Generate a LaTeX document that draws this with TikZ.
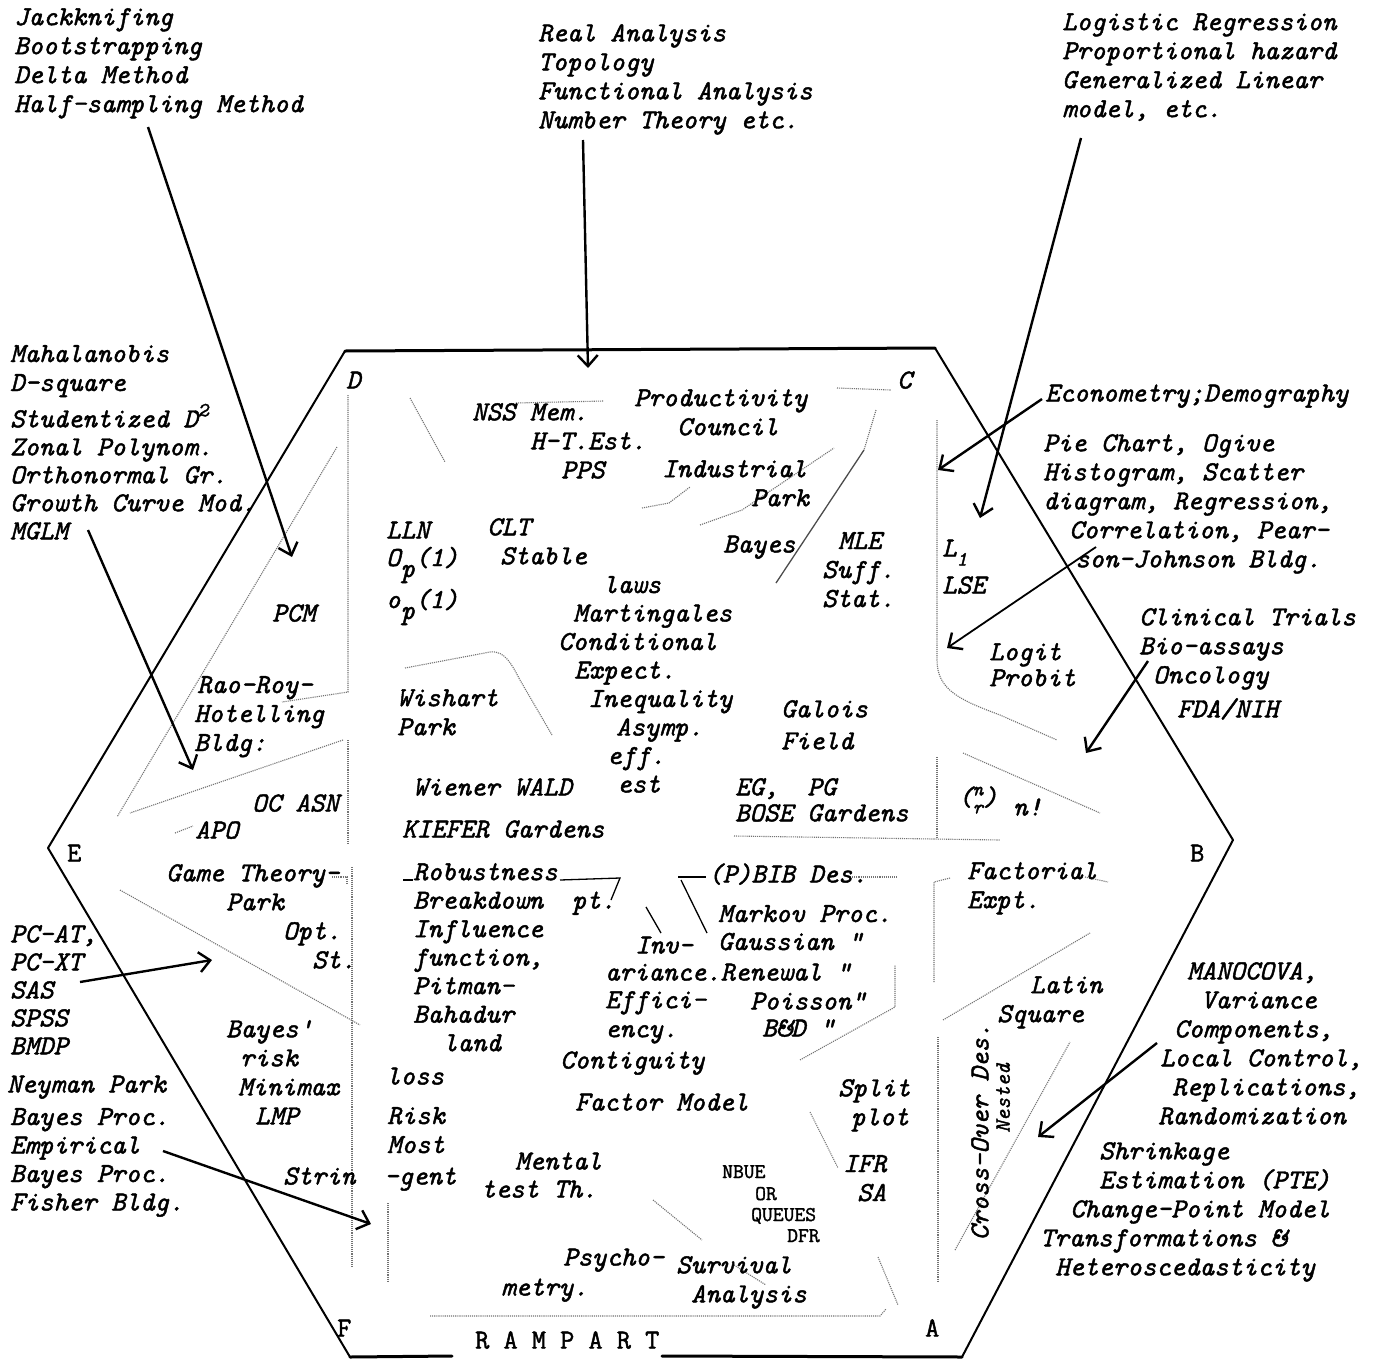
\documentclass[tikz,border=0pt]{standalone}
\usepackage{fontspec}
\usetikzlibrary{arrows.meta}
\newfontfamily\tyf{Latin Modern Mono}[FakeBold=1.6]
\newcommand\tf[1]{\fontsize{27.5}{#1}\selectfont\tyf\itshape}
\newcommand\tu[1]{\fontsize{27.5}{#1}\selectfont\tyf\upshape}
\newcommand\smf{\fontsize{20}{20}\selectfont}
\begin{document}
\begin{tikzpicture}[x=1pt,y=-1pt,
  tx/.style={anchor=north west,inner sep=0pt,align=left,font=\tf{29},execute at begin node=\strut},
  sm/.style={anchor=base west,inner sep=0pt,font=\fontsize{21}{21}\selectfont\tyf\upshape},
  hexthin/.style={line width=2pt,line cap=round,line join=round},
  hexthick/.style={line width=3pt,line cap=round,line join=round},
  arr/.style={line width=2.4pt,-{Straight Barb[length=11pt,width=20pt,line width=2.4pt]}},
  fl/.style={densely dotted,line width=1.1pt,black!55},
  sl/.style={line width=1.3pt}]
\useasboundingbox (0,0) rectangle (1377,1363);
\fill[white] (0,0) rectangle (1377,1363);

% hexagon
\coordinate (vD) at (345,351);
\coordinate (vC) at (935,348);
\coordinate (vB) at (1233,840);
\coordinate (vA) at (962,1357);
\coordinate (vF) at (350,1357);
\coordinate (vE) at (48,848);
\coordinate (rl) at (452,1356);
\coordinate (rr) at (662,1356);
\draw[hexthick] (vD)--(vC);
\draw[hexthin] (vC)--(vB)--(vA);
\draw[hexthin] (vF)--(vE)--(vD);
\draw[hexthick] (vF)--(rl);
\draw[hexthick] (rr)--(vA);

% faint district lines
\draw[fl] (337,447)--(117,817);
\draw[fl] (343,740)--(130,813);
\draw[fl] (120,890)--(360,1025);
\draw[fl] (348,395)--(348,692)--(282,702);
\draw[fl] (348,740)--(348,843);
\draw[fl] (352,867)--(352,1267);
\draw[fl] (388,1203)--(388,1282);
\draw[fl] (410,398)--(445,462);
\draw[fl] (516,403)--(604,401);
\draw[fl] (642,508)--(669,503)--(690,487);
\draw[fl] (700,525)--(742,510)--(834,448);
\draw[fl] (837,388)--(891,390);
\draw[fl] (876,410)--(864,450);
\draw[sl,black!70] (864,450)--(776,583);
\draw[fl] (405,668)--(490,652) .. controls (505,650) and (512,665) .. (520,680)--(552,735);
\draw[fl] (937,420)--(937,660) .. controls (937,690) and (960,700) .. (1000,715)--(1057,740);
\draw[fl] (937,757)--(937,838);
\draw[fl] (734,836)--(1000,840);
\draw[fl] (963,753)--(1100,813);
\draw[fl] (950,878)--(934,882)--(934,982);
\draw[fl] (1085,877)--(1108,882);
\draw[fl] (943,1020)--(1090,933);
\draw[fl] (938,1037)--(938,1282);
\draw[fl] (955,1250)--(1070,1042);
\draw[fl] (430,1316)--(880,1316)--(886,1309);
\draw[fl] (800,1060)--(895,1007)--(895,965);
\draw[sl] (646,907)--(661,933);
\draw[sl] (681,880)--(707,933);
\draw[sl] (678,877)--(706,877);
\draw[fl] (850,877)--(897,877);
\draw[fl] (810,1112)--(838,1168);
\draw[fl] (878,1257)--(898,1305);
\draw[fl] (653,1200)--(702,1240);
\draw[fl] (734,1265)--(766,1285);
\draw[fl] (175,833)--(193,826);
\draw[fl] (332,877)--(347,877)--(347,885);
\draw[sl] (403,880)--(413,880);
\draw[sl] (560,880)--(620,878)--(611,900);

% outer text blocks
\node[tx] (jack) at (14,8) {Jackknifing\\Bootstrapping\\Delta Method\\Half-sampling Method};
\node[tx] (real) at (538,24) {Real Analysis\\Topology\\Functional Analysis\\Number Theory etc.};
\node[tx] (logi) at (1062,13) {Logistic Regression\\Proportional hazard\\Generalized Linear\\model, etc.};
\node[tx] (maha) at (10,345) {Mahalanobis\\D-square};
\node[tx,font=\tf{28}] (stud) at (10,410) {Studentized D\smash{\raisebox{11pt}{\smf 2}}\\Zonal Polynom.\\Orthonormal Gr.\\Growth Curve Mod.\\MGLM};
\node[tx] (econ) at (1045,381) {Econometry;Demography};
\node[tx] (pie) at (1043,434) {Pie Chart, Ogive\\Histogram, Scatter\\diagram, Regression,\\\hspace*{26pt}Correlation, Pear-\\\hspace*{32pt}son-Johnson Bldg.};
\node[tx] (clin) at (1139,608) {Clinical Trials\\Bio-assays\\\hspace*{14pt}Oncology\\[5pt]\hspace*{38pt}FDA/NIH};
\node[tx,font=\tf{28}] (pcat) at (10,925) {PC-AT,\\PC-XT\\SAS\\SPSS\\BMDP};
\node[tx] (neym) at (7,1072) {Neyman Park};
\node[tx,font=\tf{28.5}] (baypr) at (10,1108) {Bayes Proc.\\Empirical\\Bayes Proc.\\Fisher Bldg.};
\node[tx] (mano) at (1158,962) {\hspace*{29pt}MANOCOVA,\\\hspace*{43pt}Variance\\\hspace*{16pt}Components,\\\hspace*{2pt}Local Control,\\\hspace*{14pt}Replications,\\Randomization};
\node[tx] (shr) at (1040,1142) {\hspace*{59pt}Shrinkage\\\hspace*{59pt}Estimation (PTE)\\\hspace*{30pt}Change-Point Model\\Transformations \&\\\hspace*{15pt}Heteroscedasticity};

% inner text
\node[tx] (lD) at (346,368) {D};
\node[tx] (lC) at (897,368) {C};
\node[tx,font=\tu{29}] (lE) at (67,841) {E};
\node[tx,font=\tu{29}] (lB) at (1190,841) {B};
\node[tx,font=\tu{29}] (lF) at (337,1316) {F};
\node[tx,font=\tu{29}] (lA) at (925,1316) {A};
\node[tx,font=\tu{29}] (ramp) at (475,1328) {R A M P A R T};
\node[tx] (nss) at (472,403) {NSS Mem.\\\hspace*{58pt}H-T.Est.\\\hspace*{89pt}PPS};
\node[tx] (prod) at (634,389) {Productivity\\\hspace*{43pt}Council};
\node[tx] (ind) at (662,460) {Industrial\\\hspace*{89pt}Park};
\node[tx] (lln) at (386,518) {LLN};
\node[anchor=base west,inner sep=0pt,font=\tf{29}] (Op) at (386,566) {O\smash{\raisebox{-11pt}{p}}(1)};
\node[anchor=base west,inner sep=0pt,font=\tf{29}] (op) at (386,608) {o\smash{\raisebox{-11pt}{p}}(1)};
\node[tx] (clt) at (487,518) {CLT\\\hspace*{13pt}Stable};
\node[tx] (bay) at (723,532) {Bayes};
\node[tx] (mle) at (822,532) {\hspace*{16pt}MLE\\Suff.\\Stat.};
\node[tx,font=\tf{28.5}] (laws) at (558,576) {\hspace*{45pt}laws\\\hspace*{15pt}Martingales\\Conditional\\\hspace*{16pt}Expect.\\\hspace*{30pt}Inequality\\\hspace*{58pt}Asymp.\\\hspace*{49pt}eff.\\\hspace*{59pt}est};
\node[tx] (wish) at (397,689) {Wishart\\Park};
\node[tx,font=\tf{32}] (gal) at (781,700) {Galois\\Field};
\node[tx] (wien) at (413,775) {Wiener WALD};
\node[tx] (kief) at (402,817) {KIEFER Gardens};
\node[tx,font=\tf{26}] (bose) at (735,778) {EG,\ \ PG\\BOSE Gardens};
\node[tx] (L1) at (942,536) {L\smash{\raisebox{-9pt}{\smf 1}}};
\node[tx] (lse) at (942,573) {LSE};
\node[tx,font=\tf{26}] (logit) at (989,643) {Logit\\Probit};
\node[tx] (binom) at (958,785) {(\smash{\raisebox{10pt}{\smf n}}\hspace{-10.5pt}\smash{\raisebox{-8pt}{\smf r}})};
\node[tx] (nfac) at (1013,795) {n!};
\node[tx] (pcm) at (272,601) {PCM};
\node[tx] (rao) at (194,676) {\hspace*{3pt}Rao-Roy-\\Hotelling\\Bldg:};
\node[tx] (oc) at (252,791) {OC ASN};
\node[tx] (apo) at (195,818) {APO};
\node[tx] (game) at (166,864) {Game Theory-\\\hspace*{60pt}Park\\\hspace*{117pt}Opt.\\\hspace*{146pt}St.};
\node[tx] (bayr) at (226,1020) {Bayes'\\\hspace*{14pt}risk\\\hspace*{12pt}Minimax\\\hspace*{29pt}LMP};
\node[tx] (loss) at (386,1064) {loss};
\node[tx] (risk) at (387,1107) {Risk\\Most};
\node[tx] (strin) at (283,1164) {Strin\ \ -gent};
\node[tx,font=\tf{28.5}] (rob) at (413,863) {Robustness\\Breakdown\ \ pt.\\Influence\\function,\\Pitman-\\Bahadur\\\hspace*{30pt}land};
\node[tx] (pbib) at (708,862) {(P)BIB Des.};
\node[tx,font=\tf{28}] (mark) at (718,905) {Markov Proc.\\Gaussian "};
\node[tx] (inv) at (635,933) {Inv-};
\node[tx] (aria) at (605,960) {ariance.Renewal "};
\node[tx] (effi) at (605,991) {Effici-\\ency.};
\node[tx] (pois) at (750,989) {Poisson"};
\node[tx] (bd) at (762,1016) {B\&D "};
\node[tx] (contig) at (560,1048) {Contiguity};
\node[tx] (factor) at (575,1090) {Factor Model};
\node[tx] (split) at (838,1079) {Split\\\hspace*{13pt}plot};
\node[tx] (mental) at (515,1149) {Mental};
\node[tx] (testth) at (481,1177) {test Th.};
\node[sm] (nbue) at (722,1178) {NBUE};
\node[sm] (or) at (755,1200) {OR};
\node[sm] (queues) at (751,1221) {QUEUES};
\node[sm] (dfr) at (787,1242) {DFR};
\node[tx] (ifr) at (843,1155) {IFR\\\hspace*{14pt}SA};
\node[tx] (psy) at (563,1245) {Psycho-};
\node[tx] (metry) at (501,1275) {metry.};
\node[tx] (surv) at (676,1256) {Survival\\\hspace*{15pt}Analysis};
\node[tx] (fact) at (967,862) {Factorial\\Expt.};
\node[tx] (latin) at (997,976) {\hspace*{33pt}Latin\\Square};
\node[font=\tf{29},inner sep=0pt,rotate=90] (cross) at (980,1132) {Cross-Over Des.};
\node[font=\fontsize{22}{22}\selectfont\tyf\itshape,inner sep=0pt,rotate=90] (nest) at (1003,1098) {Nested};

% arrows
\coordinate (a1s) at (148,127); \coordinate (a1e) at (292,557);
\coordinate (a2s) at (583,140); \coordinate (a2e) at (588,368);
\coordinate (a3s) at (1081,138); \coordinate (a3e) at (980,518);
\coordinate (a4s) at (1042,399); \coordinate (a4e) at (938,470);
\coordinate (a5s) at (1096,547); \coordinate (a5e) at (947,648);
\coordinate (a6s) at (1148,661); \coordinate (a6e) at (1086,753);
\coordinate (a7s) at (88,530); \coordinate (a7e) at (193,770);
\coordinate (a8s) at (80,982); \coordinate (a8e) at (212,960);
\coordinate (a9s) at (163,1151); \coordinate (a9e) at (371,1224);
\coordinate (a10s) at (1157,1043); \coordinate (a10e) at (1038,1137);
\draw[arr] (a1s)--(a1e);
\draw[arr] (a2s)--(a2e);
\draw[arr] (a3s)--(a3e);
\draw[arr] (a4s)--(a4e);
\draw[arr,line width=1.8pt] (a5s)--(a5e);
\draw[arr] (a6s)--(a6e);
\draw[arr] (a7s)--(a7e);
\draw[arr] (a8s)--(a8e);
\draw[arr] (a9s)--(a9e);
\draw[arr] (a10s)--(a10e);
\end{tikzpicture}
\end{document}
